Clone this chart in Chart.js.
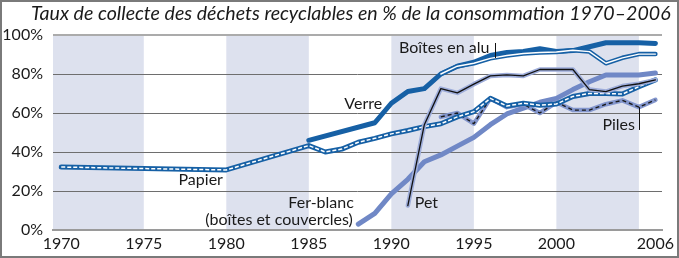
<!DOCTYPE html>
<html lang="fr">
<head>
<meta charset="utf-8">
<title>Taux de collecte des déchets recyclables</title>
<script src="https://cdn.jsdelivr.net/npm/chart.js@4.4.1/dist/chart.umd.min.js"></script>
<style>
  html, body { margin: 0; padding: 0; background: #fff; }
  #wrap { position: relative; width: 679px; height: 258px; overflow: hidden; }
  #chart { position: absolute; left: 0; top: 0; }
  #title { position: absolute; left: 31px; top: 1px; font: italic 19.6px Lato, sans-serif; color: #1a1a1a; white-space: nowrap; }
  #frame { position: absolute; left: 0; top: 0; right: 0; bottom: 0; border: 2px solid #7a7a7a; pointer-events: none; }
</style>
</head>
<body>
<div id="wrap">
  <canvas id="chart" width="679" height="258"></canvas>
  <div id="title">Taux de collecte des déchets recyclables en % de la consommation 1970–2006</div>
  <div id="frame"></div>
</div>
<script>
// years shared by every series (null = no value that year)
const years = [1970, 1975, 1980, 1985, 1986, 1987, 1988, 1989, 1990, 1991, 1992, 1993,
               1994, 1995, 1996, 1997, 1998, 1999, 2000, 2001, 2002, 2003, 2004, 2005, 2006]

const verre    = [null, null, null, 46, null, null, null, 55, 65, 71, 72.5, 80, 84, 86, 89.5, 91, 91.5, 93, 91.5, 92, 94, 96, 96, 96, 95.7]
const alu      = [null, null, null, null, null, null, null, null, null, null, null, 80, 84, 85.5, 88, 89.5, 90.5, 91, 91.3, 92.2, 91.5, 85.5, 88.3, 90.2, 90.2]
const papier   = [32.3, 31.5, 30.8, 43.3, 40, 41.5, 45, 47, 49.3, 51, 53, 54.5, 58, 60.7, 67.5, 63.6, 65, 64, 64.6, 68.5, 70, 70, 69.7, 73.5, 77]
const ferBlanc = [null, null, null, null, null, null, 3, 8.5, 18.5, 26, 35, 38.5, 43, 47.5, 54, 59.5, 62.5, 65.5, 67.5, 72, 76, 79.5, 79.5, 79.5, 80.5]
const pet      = [null, null, null, null, null, null, null, null, null, 12.5, 54, 72.5, 70.3, 74.8, 79, 79.5, 79, 82.3, 82.3, 82.3, 72, 71, 73.8, 75, 77]
const piles    = [null, null, null, null, null, null, null, null, null, null, null, 58, 60, 54.5, 67.5, 63, 64.5, 60, 65.5, 61.5, 61.5, 64.5, 66.5, 63, 66.7]

const xTickYears = [1970, 1975, 1980, 1985, 1990, 1995, 2000, 2006]
const yTickValues = [0, 20, 40, 60, 80, 100]
const shadedPeriods = [[1969.5, 1975], [1980, 1985], [1990, 1995], [2000, 2005]]

const darkBlue = '#1660a5'

function serie(values, color, width, dash) {
    return {
        data: years.map((x, i) => ({ x: x, y: values[i] })),
        borderColor: color,
        borderWidth: width,
        borderDash: dash || [],
        borderJoinStyle: 'round',
        borderCapStyle: dash ? 'butt' : 'round',
        pointRadius: 0,
        spanGaps: true,
        tension: 0,
        fill: false
    }
}

// labels placed in data units (year, %)
const labels = [
    { text: 'Boîtes en alu', x: 1993.2, y: 90.8, align: 'center' },
    { text: 'Verre', x: 1988.3, y: 62, align: 'center' },
    { text: 'Papier', x: 1978.45, y: 23, align: 'center' },
    { text: 'Fer-blanc', x: 1987.73, y: 11.3, align: 'right' },
    { text: '(boîtes et couvercles)', x: 1987.67, y: 2.4, align: 'right' },
    { text: 'Pet', x: 1991.42, y: 11.3, align: 'left' },
    { text: 'Piles', x: 2004.76, y: 51.3, align: 'right' }
]
const leaders = [
    { x: 1996.27, from: 95.9, to: 88.2 },
    { x: 2005, from: 63, to: 51.3 }
]

const bandsPlugin = {
    id: 'bands',
    beforeDraw(chart) {
        const { ctx, chartArea, scales } = chart
        ctx.save()
        ctx.fillStyle = '#dde1ee'
        shadedPeriods.forEach(([a, b]) => {
            const x1 = Math.max(scales.x.getPixelForValue(a), chartArea.left)
            const x2 = scales.x.getPixelForValue(b)
            ctx.fillRect(x1, chartArea.top, x2 - x1, chartArea.bottom - chartArea.top)
        })
        ctx.restore()
    }
}

const labelsPlugin = {
    id: 'labels',
    afterDatasetsDraw(chart) {
        const { ctx, scales } = chart
        ctx.save()
        ctx.fillStyle = '#1a1a1a'
        ctx.font = '16px Lato'
        ctx.textBaseline = 'alphabetic'
        labels.forEach(l => {
            ctx.textAlign = l.align
            ctx.fillText(l.text, scales.x.getPixelForValue(l.x), scales.y.getPixelForValue(l.y))
        })
        ctx.strokeStyle = '#111'
        ctx.lineWidth = 1
        leaders.forEach(l => {
            const x = Math.round(scales.x.getPixelForValue(l.x)) + 0.5
            ctx.beginPath()
            ctx.moveTo(x, scales.y.getPixelForValue(l.from))
            ctx.lineTo(x, scales.y.getPixelForValue(l.to))
            ctx.stroke()
        })
        ctx.restore()
    }
}

Chart.defaults.font.family = 'Lato'
Chart.defaults.color = '#1a1a1a'

// listed bottom to top; 'order' makes later entries draw over earlier ones
const layers = [
    serie(ferBlanc, '#7088c6', 5),
    serie(piles, '#8396cd', 4.5),
    serie(piles, '#1a1a1a', 1.4, [4, 3]),
    serie(papier, darkBlue, 5),
    serie(papier, '#ffffff', 1.5, [4, 2]),
    serie(pet, '#9eadda', 4.5),
    serie(pet, '#111111', 1.3),
    serie(verre, darkBlue, 5),
    serie(alu, darkBlue, 4.5),
    serie(alu, '#ffffff', 1.4)
]
layers.forEach((d, i) => { d.order = layers.length - i })

new Chart(document.getElementById('chart'), {
    type: 'line',
    data: { datasets: layers },
    options: {
        responsive: false,
        animation: false,
        layout: { padding: { top: 35, right: 17, bottom: 0, left: 0 } },
        plugins: { legend: { display: false }, tooltip: { enabled: false } },
        scales: {
            x: {
                type: 'linear',
                min: 1969.5,
                max: 2006.4,
                afterBuildTicks: s => { s.ticks = xTickYears.map(v => ({ value: v })) },
                afterFit: s => { s.height = 28 },
                ticks: { autoSkip: false, maxRotation: 0, padding: 4, font: { size: 16 }, callback: v => String(v) },
                grid: { display: false, drawTicks: false },
                border: { display: true, color: '#9a9a9a', width: 2 }
            },
            y: {
                min: 0,
                max: 100,
                afterBuildTicks: s => { s.ticks = yTickValues.map(v => ({ value: v })) },
                afterFit: s => { s.width = 53 },
                ticks: { padding: 10, font: { size: 16 }, callback: v => v + '%' },
                grid: {
                    drawTicks: false,
                    color: c => c.tick && c.tick.value === 100 ? '#ababab' : '#6e6e6e',
                    lineWidth: c => c.tick && c.tick.value === 100 ? 2 : 1
                },
                border: { display: false }
            }
        }
    },
    plugins: [bandsPlugin, labelsPlugin]
})
</script>
</body>
</html>
